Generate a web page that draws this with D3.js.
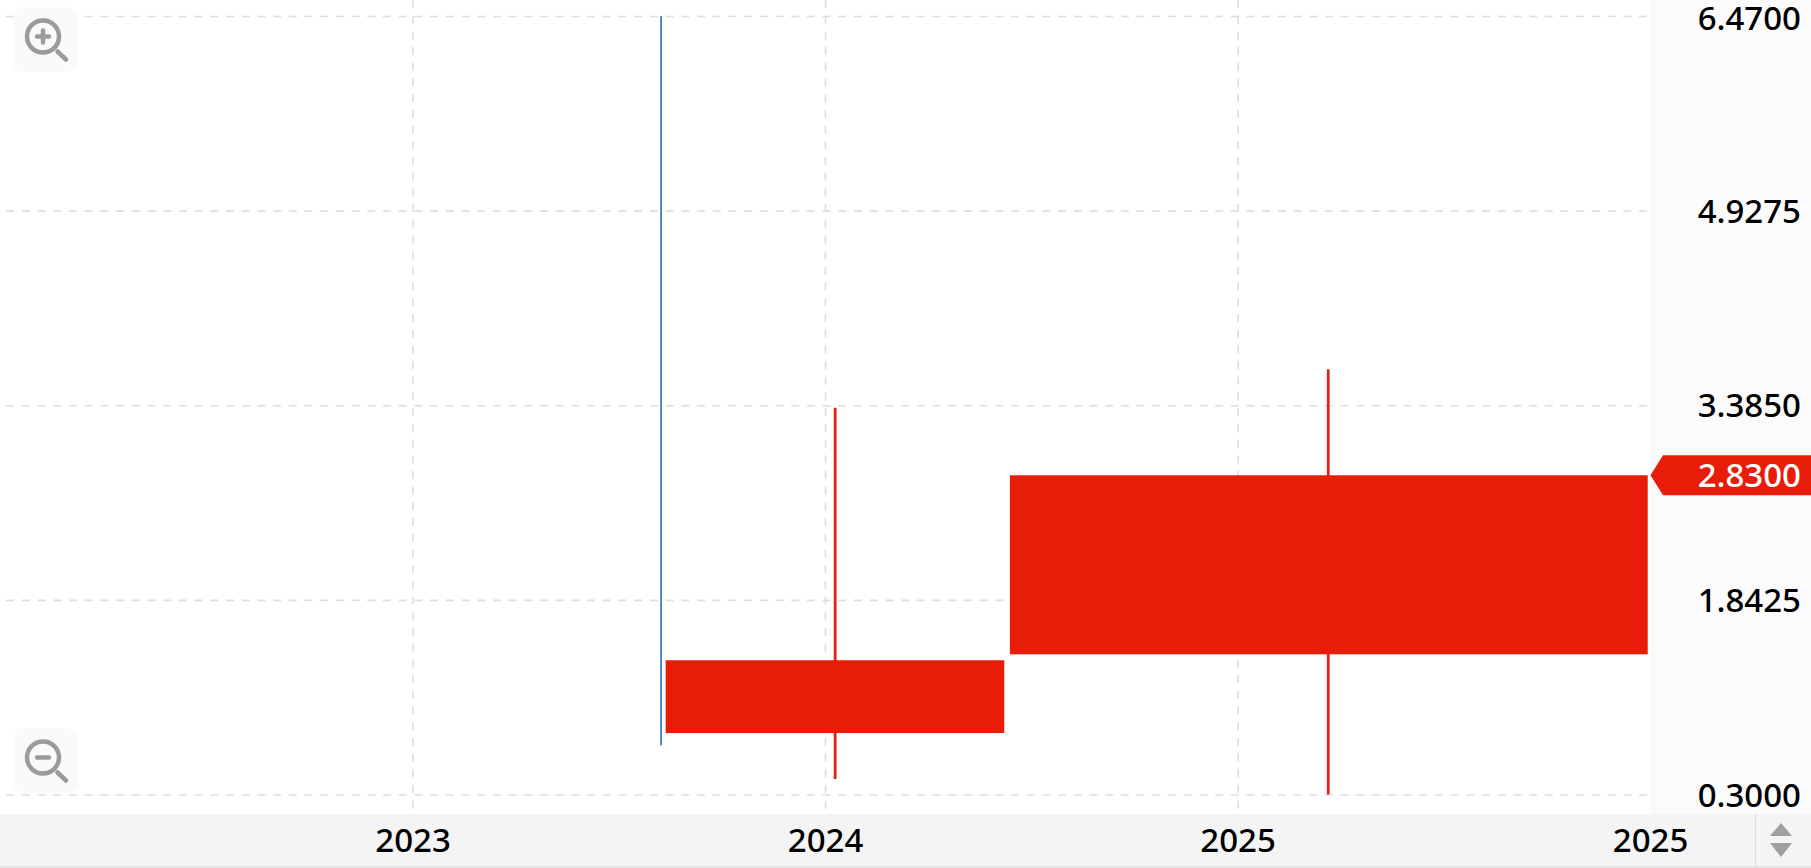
<!DOCTYPE html>
<html>
<head>
<meta charset="utf-8">
<style>
html,body{margin:0;padding:0;background:#fff;overflow:hidden}
svg{display:block}
text{font-family:"Noto Sans",sans-serif}
.domain{display:none}
</style>
<script src="https://cdnjs.cloudflare.com/ajax/libs/d3/7.8.5/d3.min.js"></script>
</head>
<body>
<svg id="chart" width="1811" height="868"></svg>
<script>
const yTicks = [0.3, 1.8425, 3.385, 4.9275, 6.47];
const xTickDates = ["2023-01-01", "2024-01-01", "2025-01-01", "2025-12-31"];
const xTickLabels = ["2023", "2024", "2025", "2025"];
const periods = ["2023-08-09", "2024-01-10", "2025-03-22"];
const bodyStart = ["2023-08-09", "2023-08-13", "2024-06-13"];
const bodyEnd = ["2023-08-09", "2024-06-08", "2025-12-29"];
const open = [0.69, 1.364, 1.411];
const close = [0.69, 0.787, 2.83];
const high = [6.47, 3.366, 3.67];
const low = [0.69, 0.423, 0.30];
const lastPrice = 2.83;

const parse = d3.utcParse("%Y-%m-%d");
const red = "#e71d0a", blue = "#2a6bc0", wickRed = "#e0241a";
const fontSize = 33, fontWeight = 500, axisFont = '"Noto Sans",sans-serif';
const svg = d3.select("#chart");

const x = d3.scaleUtc()
  .domain(xTickDates.map(parse))
  .range([412.5, 825, 1237.6, 1650]);
const y = d3.scaleLinear().domain([0.3, 6.47]).range([794.5, 16]);

// panels
svg.append("rect").attr("x", 1650).attr("y", 0).attr("width", 161).attr("height", 814).attr("fill", "#fbfbfb");
svg.append("rect").attr("x", 0).attr("y", 814).attr("width", 1811).attr("height", 52).attr("fill", "#f4f4f4");
svg.append("rect").attr("x", 0).attr("y", 866).attr("width", 1811).attr("height", 2).attr("fill", "#e4e4e4");
svg.append("rect").attr("x", 1755).attr("y", 814).attr("width", 1).attr("height", 52).attr("fill", "#dcdcdc");

// grid, from the axes
const gridStyle = g => g.selectAll(".tick line")
  .attr("stroke", "#dedede").attr("stroke-width", 1.6).attr("stroke-dasharray", "8 7.7");
const yGrid = svg.append("g").attr("transform", "translate(1647,0)")
  .call(d3.axisLeft(y).tickValues(yTicks).tickSize(1647).tickFormat(""));
gridStyle(yGrid);
const xGrid = svg.append("g").attr("transform", "translate(0,0)")
  .call(d3.axisBottom(x).tickValues(xTickDates.slice(0, 3).map(parse)).tickSize(814).tickFormat(""));
gridStyle(xGrid);

// candles
const idx = d3.range(periods.length);
const candles = svg.append("g");
candles.selectAll("line.wick").data(idx).join("line")
  .attr("class", "wick")
  .attr("x1", i => x(parse(periods[i]))).attr("x2", i => x(parse(periods[i])))
  .attr("y1", i => y(high[i])).attr("y2", i => y(low[i]))
  .attr("stroke", i => close[i] === open[i] ? blue : wickRed)
  .attr("stroke-width", i => close[i] === open[i] ? 1.6 : 2.8);
candles.selectAll("rect.body").data(idx.filter(i => close[i] !== open[i])).join("rect")
  .attr("class", "body")
  .attr("x", i => x(parse(bodyStart[i])))
  .attr("width", i => x(parse(bodyEnd[i])) - x(parse(bodyStart[i])))
  .attr("y", i => y(Math.max(open[i], close[i])))
  .attr("height", i => Math.abs(y(open[i]) - y(close[i])))
  .attr("fill", red);

// y labels
const yAxis = svg.append("g").attr("transform", "translate(1801,0)")
  .call(d3.axisLeft(y).tickValues(yTicks).tickSize(0).tickPadding(0).tickFormat(d3.format(".4f")));
yAxis.selectAll("text")
  .attr("font-size", fontSize).attr("font-weight", fontWeight).attr("fill", "#000")
  .style("font-family", axisFont)
  .attr("dy", d => d === yTicks[yTicks.length - 1] ? "0.42em" : "0.35em");

// x labels
const xAxis = svg.append("g").attr("transform", "translate(0,829)")
  .call(d3.axisBottom(x).tickValues(xTickDates.map(parse)).tickSize(0).tickPadding(0)
    .tickFormat((d, i) => xTickLabels[i]));
xAxis.selectAll("text")
  .attr("font-size", fontSize).attr("font-weight", fontWeight).attr("fill", "#000")
  .style("font-family", axisFont);

// last price marker
const py = y(lastPrice);
svg.append("path")
  .attr("d", d3.line()([[1650.5, py], [1663, py - 20], [1811, py - 20], [1811, py + 20], [1663, py + 20]]) + "Z")
  .attr("fill", red);
svg.append("text").attr("x", 1801).attr("y", py).attr("dy", "0.37em")
  .attr("text-anchor", "end").attr("font-size", fontSize).attr("font-weight", fontWeight).attr("fill", "#fff")
  .text(d3.format(".4f")(lastPrice));

// zoom buttons
function zoomBtn(top, plus) {
  const g = svg.append("g");
  g.append("rect").attr("x", 13).attr("y", top).attr("width", 65).attr("height", 65).attr("rx", 10).attr("fill", "#fafafa");
  const cy = top + 29.5;
  g.append("circle").attr("cx", 43).attr("cy", cy).attr("r", 16).attr("fill", "none").attr("stroke", "#9b9b9b").attr("stroke-width", 4.5);
  g.append("line").attr("x1", 57.5).attr("y1", cy + 15).attr("x2", 66).attr("y2", cy + 23)
    .attr("stroke", "#9b9b9b").attr("stroke-width", 4.5).attr("stroke-linecap", "round");
  g.append("line").attr("x1", 37).attr("y1", cy).attr("x2", 49).attr("y2", cy)
    .attr("stroke", "#9b9b9b").attr("stroke-width", 4.5).attr("stroke-linecap", "round");
  if (plus) g.append("line").attr("x1", 43).attr("y1", cy - 6).attr("x2", 43).attr("y2", cy + 6)
    .attr("stroke", "#9b9b9b").attr("stroke-width", 4.5).attr("stroke-linecap", "round");
}
zoomBtn(7, true);
zoomBtn(728, false);

// scroll arrows
svg.append("path").attr("d", "M1770,836L1781,823L1792,836Z").attr("fill", "#a0a0a0");
svg.append("path").attr("d", "M1770,843L1781,857L1792,843Z").attr("fill", "#a0a0a0");
</script>
</body>
</html>
